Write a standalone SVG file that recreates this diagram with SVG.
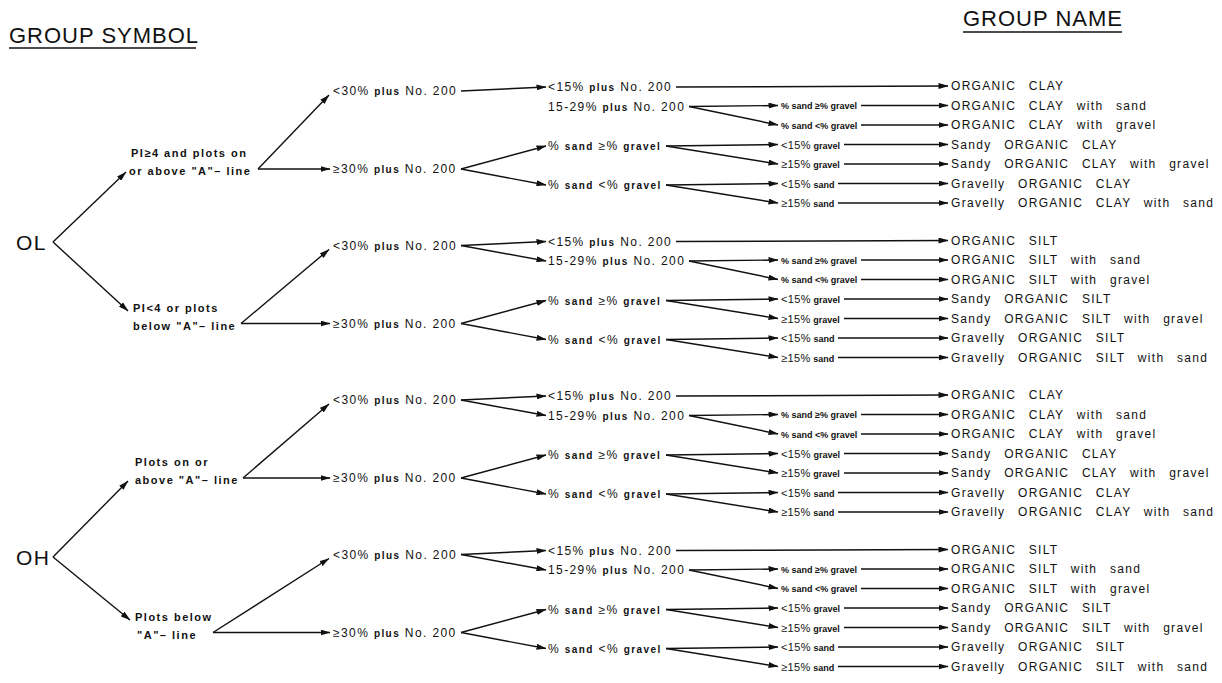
<svg xmlns="http://www.w3.org/2000/svg" width="1222" height="683" viewBox="0 0 1222 683">
<style>
text{font-family:"Liberation Sans",Arial,sans-serif;fill:#111}
.t{font-size:22px;letter-spacing:1px}
.root{font-size:21px;letter-spacing:1.5px}
.l1{font-size:11px;font-weight:bold;letter-spacing:1.5px}
.m{font-size:12px;letter-spacing:1.4px}
.w{font-size:10px;font-weight:bold}
.s{font-size:9px;font-weight:bold;letter-spacing:0px}
.d{font-size:11px;font-weight:normal;letter-spacing:0.4px}
.n{font-size:12px;letter-spacing:1.3px;word-spacing:8px}
.ul{stroke:#111;stroke-width:1.5}
#connectors line{stroke:#111;stroke-width:1.4;fill:none;marker-end:url(#ah)}
</style>
<defs>
<marker id="ah" markerWidth="10" markerHeight="6" refX="9.5" refY="3" orient="auto" markerUnits="userSpaceOnUse"><path d="M0,0 L10,3 L0,6 z" fill="#111"/></marker>
</defs>
<rect width="1222" height="683" fill="#fff"/>
<g id="title-symbol"><text class="t" x="9" y="42.5">GROUP SYMBOL</text><line class="ul" x1="9" y1="48" x2="196" y2="48"/></g>
<g id="title-name"><text class="t" x="963" y="26">GROUP NAME</text><line class="ul" x1="963" y1="32" x2="1122" y2="32"/></g>

<g id="connectors">
<line x1="53" y1="242" x2="126" y2="172"/>
<line x1="53" y1="242" x2="128" y2="311"/>
<line x1="53" y1="557" x2="128" y2="481"/>
<line x1="53" y1="557" x2="130" y2="620"/>
<!-- block 1 -->
<line x1="258" y1="169" x2="330" y2="169"/>
<line x1="258" y1="169" x2="329" y2="95"/>
<line x1="461" y1="91" x2="546" y2="87"/>
<line x1="461" y1="169" x2="546" y2="146"/>
<line x1="461" y1="169" x2="546" y2="185"/>
<line x1="676" y1="87" x2="948" y2="86"/>
<line x1="689" y1="106.5" x2="778" y2="105.5"/>
<line x1="689" y1="106.5" x2="778" y2="125"/>
<line x1="666" y1="146" x2="778" y2="144.5"/>
<line x1="666" y1="146" x2="778" y2="164"/>
<line x1="666" y1="185" x2="778" y2="183.5"/>
<line x1="666" y1="185" x2="778" y2="203"/>
<line x1="861" y1="105.5" x2="948" y2="105.5"/>
<line x1="861" y1="125" x2="948" y2="125"/>
<line x1="844" y1="144.5" x2="948" y2="144.5"/>
<line x1="844" y1="164" x2="948" y2="164"/>
<line x1="838" y1="183.5" x2="948" y2="183.5"/>
<line x1="838" y1="203" x2="948" y2="203"/>
<!-- block 2 -->
<line x1="241" y1="323.5" x2="330" y2="323.5"/>
<line x1="241" y1="323.5" x2="329" y2="249.5"/>
<line x1="461" y1="245.5" x2="546" y2="241.5"/>
<line x1="461" y1="245.5" x2="546" y2="261"/>
<line x1="461" y1="323.5" x2="546" y2="300.5"/>
<line x1="461" y1="323.5" x2="546" y2="339.5"/>
<line x1="676" y1="241.5" x2="948" y2="240.5"/>
<line x1="689" y1="261" x2="778" y2="260"/>
<line x1="689" y1="261" x2="778" y2="279.5"/>
<line x1="666" y1="300.5" x2="778" y2="299"/>
<line x1="666" y1="300.5" x2="778" y2="318.5"/>
<line x1="666" y1="339.5" x2="778" y2="338"/>
<line x1="666" y1="339.5" x2="778" y2="357.5"/>
<line x1="861" y1="260" x2="948" y2="260"/>
<line x1="861" y1="279.5" x2="948" y2="279.5"/>
<line x1="844" y1="299" x2="948" y2="299"/>
<line x1="844" y1="318.5" x2="948" y2="318.5"/>
<line x1="838" y1="338" x2="948" y2="338"/>
<line x1="838" y1="357.5" x2="948" y2="357.5"/>
<!-- block 3 -->
<line x1="243" y1="478" x2="330" y2="478"/>
<line x1="243" y1="478" x2="329" y2="404"/>
<line x1="461" y1="400" x2="546" y2="396"/>
<line x1="461" y1="400" x2="546" y2="415.5"/>
<line x1="461" y1="478" x2="546" y2="455"/>
<line x1="461" y1="478" x2="546" y2="494"/>
<line x1="676" y1="396" x2="948" y2="395"/>
<line x1="689" y1="415.5" x2="778" y2="414.5"/>
<line x1="689" y1="415.5" x2="778" y2="434"/>
<line x1="666" y1="455" x2="778" y2="453.5"/>
<line x1="666" y1="455" x2="778" y2="473"/>
<line x1="666" y1="494" x2="778" y2="492.5"/>
<line x1="666" y1="494" x2="778" y2="512"/>
<line x1="861" y1="414.5" x2="948" y2="414.5"/>
<line x1="861" y1="434" x2="948" y2="434"/>
<line x1="844" y1="453.5" x2="948" y2="453.5"/>
<line x1="844" y1="473" x2="948" y2="473"/>
<line x1="838" y1="492.5" x2="948" y2="492.5"/>
<line x1="838" y1="512" x2="948" y2="512"/>
<!-- block 4 -->
<line x1="213" y1="632.5" x2="330" y2="632.5"/>
<line x1="213" y1="632.5" x2="329" y2="558.5"/>
<line x1="461" y1="554.5" x2="546" y2="550.5"/>
<line x1="461" y1="554.5" x2="546" y2="570"/>
<line x1="461" y1="632.5" x2="546" y2="609.5"/>
<line x1="461" y1="632.5" x2="546" y2="648.5"/>
<line x1="676" y1="550.5" x2="948" y2="549.5"/>
<line x1="689" y1="570" x2="778" y2="569"/>
<line x1="689" y1="570" x2="778" y2="588.5"/>
<line x1="666" y1="609.5" x2="778" y2="608"/>
<line x1="666" y1="609.5" x2="778" y2="627.5"/>
<line x1="666" y1="648.5" x2="778" y2="647"/>
<line x1="666" y1="648.5" x2="778" y2="666.5"/>
<line x1="861" y1="569" x2="948" y2="569"/>
<line x1="861" y1="588.5" x2="948" y2="588.5"/>
<line x1="844" y1="608" x2="948" y2="608"/>
<line x1="844" y1="627.5" x2="948" y2="627.5"/>
<line x1="838" y1="647" x2="948" y2="647"/>
<line x1="838" y1="666.5" x2="948" y2="666.5"/>
</g>

<g id="OL"><text class="root" x="16" y="249.5">OL</text></g>
<g id="OH"><text class="root" x="16" y="564.5">OH</text></g>

<!-- block 1 nodes -->
<g id="b1-cond"><text class="l1" x="131" y="157">PI≥4 and plots on</text><text class="l1" x="129" y="175">or above "A"– line</text></g>
<g id="b1-lt30"><text class="m" x="333" y="95">&lt;30% <tspan class="w">plus</tspan> No. 200</text></g>
<g id="b1-ge30"><text class="m" x="333" y="173">≥30% <tspan class="w">plus</tspan> No. 200</text></g>
<g id="b1-lt15"><text class="m" x="548" y="91">&lt;15% <tspan class="w">plus</tspan> No. 200</text></g>
<g id="b1-1529"><text class="m" x="548" y="110.5">15-29% <tspan class="w">plus</tspan> No. 200</text></g>
<g id="b1-sge"><text class="m" x="548" y="150">% <tspan class="w">sand</tspan> ≥% <tspan class="w">gravel</tspan></text></g>
<g id="b1-slt"><text class="m" x="548" y="189">% <tspan class="w">sand</tspan> &lt;% <tspan class="w">gravel</tspan></text></g>
<g id="b1-a1"><text class="s" x="781" y="109">% sand ≥% gravel</text></g>
<g id="b1-a2"><text class="s" x="781" y="128.5">% sand &lt;% gravel</text></g>
<g id="b1-a3"><text class="s" x="781" y="148.5"><tspan class="d">&lt;15%</tspan> gravel</text></g>
<g id="b1-a4"><text class="s" x="781" y="168"><tspan class="d">≥15%</tspan> gravel</text></g>
<g id="b1-a5"><text class="s" x="781" y="187.5"><tspan class="d">&lt;15%</tspan> sand</text></g>
<g id="b1-a6"><text class="s" x="781" y="207"><tspan class="d">≥15%</tspan> sand</text></g>
<g id="b1-n0"><text class="n" x="951" y="90">ORGANIC CLAY</text></g>
<g id="b1-n1"><text class="n" x="951" y="109.5">ORGANIC CLAY with sand</text></g>
<g id="b1-n2"><text class="n" x="951" y="129">ORGANIC CLAY with gravel</text></g>
<g id="b1-n3"><text class="n" x="951" y="148.5">Sandy ORGANIC CLAY</text></g>
<g id="b1-n4"><text class="n" x="951" y="168">Sandy ORGANIC CLAY with gravel</text></g>
<g id="b1-n5"><text class="n" x="951" y="187.5">Gravelly ORGANIC CLAY</text></g>
<g id="b1-n6"><text class="n" x="951" y="207">Gravelly ORGANIC CLAY with sand</text></g>

<!-- block 2 nodes -->
<g id="b2-cond"><text class="l1" x="133" y="311.5">PI&lt;4 or plots</text><text class="l1" x="133" y="329.5">below "A"– line</text></g>
<g id="b2-lt30"><text class="m" x="333" y="249.5">&lt;30% <tspan class="w">plus</tspan> No. 200</text></g>
<g id="b2-ge30"><text class="m" x="333" y="327.5">≥30% <tspan class="w">plus</tspan> No. 200</text></g>
<g id="b2-lt15"><text class="m" x="548" y="245.5">&lt;15% <tspan class="w">plus</tspan> No. 200</text></g>
<g id="b2-1529"><text class="m" x="548" y="265">15-29% <tspan class="w">plus</tspan> No. 200</text></g>
<g id="b2-sge"><text class="m" x="548" y="304.5">% <tspan class="w">sand</tspan> ≥% <tspan class="w">gravel</tspan></text></g>
<g id="b2-slt"><text class="m" x="548" y="343.5">% <tspan class="w">sand</tspan> &lt;% <tspan class="w">gravel</tspan></text></g>
<g id="b2-a1"><text class="s" x="781" y="263.5">% sand ≥% gravel</text></g>
<g id="b2-a2"><text class="s" x="781" y="283">% sand &lt;% gravel</text></g>
<g id="b2-a3"><text class="s" x="781" y="303"><tspan class="d">&lt;15%</tspan> gravel</text></g>
<g id="b2-a4"><text class="s" x="781" y="322.5"><tspan class="d">≥15%</tspan> gravel</text></g>
<g id="b2-a5"><text class="s" x="781" y="342"><tspan class="d">&lt;15%</tspan> sand</text></g>
<g id="b2-a6"><text class="s" x="781" y="361.5"><tspan class="d">≥15%</tspan> sand</text></g>
<g id="b2-n0"><text class="n" x="951" y="244.5">ORGANIC SILT</text></g>
<g id="b2-n1"><text class="n" x="951" y="264">ORGANIC SILT with sand</text></g>
<g id="b2-n2"><text class="n" x="951" y="283.5">ORGANIC SILT with gravel</text></g>
<g id="b2-n3"><text class="n" x="951" y="303">Sandy ORGANIC SILT</text></g>
<g id="b2-n4"><text class="n" x="951" y="322.5">Sandy ORGANIC SILT with gravel</text></g>
<g id="b2-n5"><text class="n" x="951" y="342">Gravelly ORGANIC SILT</text></g>
<g id="b2-n6"><text class="n" x="951" y="361.5">Gravelly ORGANIC SILT with sand</text></g>

<!-- block 3 nodes -->
<g id="b3-cond"><text class="l1" x="135" y="466">Plots on or</text><text class="l1" x="135" y="484">above "A"– line</text></g>
<g id="b3-lt30"><text class="m" x="333" y="404">&lt;30% <tspan class="w">plus</tspan> No. 200</text></g>
<g id="b3-ge30"><text class="m" x="333" y="482">≥30% <tspan class="w">plus</tspan> No. 200</text></g>
<g id="b3-lt15"><text class="m" x="548" y="400">&lt;15% <tspan class="w">plus</tspan> No. 200</text></g>
<g id="b3-1529"><text class="m" x="548" y="419.5">15-29% <tspan class="w">plus</tspan> No. 200</text></g>
<g id="b3-sge"><text class="m" x="548" y="459">% <tspan class="w">sand</tspan> ≥% <tspan class="w">gravel</tspan></text></g>
<g id="b3-slt"><text class="m" x="548" y="498">% <tspan class="w">sand</tspan> &lt;% <tspan class="w">gravel</tspan></text></g>
<g id="b3-a1"><text class="s" x="781" y="418">% sand ≥% gravel</text></g>
<g id="b3-a2"><text class="s" x="781" y="437.5">% sand &lt;% gravel</text></g>
<g id="b3-a3"><text class="s" x="781" y="457.5"><tspan class="d">&lt;15%</tspan> gravel</text></g>
<g id="b3-a4"><text class="s" x="781" y="477"><tspan class="d">≥15%</tspan> gravel</text></g>
<g id="b3-a5"><text class="s" x="781" y="496.5"><tspan class="d">&lt;15%</tspan> sand</text></g>
<g id="b3-a6"><text class="s" x="781" y="516"><tspan class="d">≥15%</tspan> sand</text></g>
<g id="b3-n0"><text class="n" x="951" y="399">ORGANIC CLAY</text></g>
<g id="b3-n1"><text class="n" x="951" y="418.5">ORGANIC CLAY with sand</text></g>
<g id="b3-n2"><text class="n" x="951" y="438">ORGANIC CLAY with gravel</text></g>
<g id="b3-n3"><text class="n" x="951" y="457.5">Sandy ORGANIC CLAY</text></g>
<g id="b3-n4"><text class="n" x="951" y="477">Sandy ORGANIC CLAY with gravel</text></g>
<g id="b3-n5"><text class="n" x="951" y="496.5">Gravelly ORGANIC CLAY</text></g>
<g id="b3-n6"><text class="n" x="951" y="516">Gravelly ORGANIC CLAY with sand</text></g>

<!-- block 4 nodes -->
<g id="b4-cond"><text class="l1" x="135" y="620.5">Plots below</text><text class="l1" x="137" y="638.5">"A"– line</text></g>
<g id="b4-lt30"><text class="m" x="333" y="558.5">&lt;30% <tspan class="w">plus</tspan> No. 200</text></g>
<g id="b4-ge30"><text class="m" x="333" y="636.5">≥30% <tspan class="w">plus</tspan> No. 200</text></g>
<g id="b4-lt15"><text class="m" x="548" y="554.5">&lt;15% <tspan class="w">plus</tspan> No. 200</text></g>
<g id="b4-1529"><text class="m" x="548" y="574">15-29% <tspan class="w">plus</tspan> No. 200</text></g>
<g id="b4-sge"><text class="m" x="548" y="613.5">% <tspan class="w">sand</tspan> ≥% <tspan class="w">gravel</tspan></text></g>
<g id="b4-slt"><text class="m" x="548" y="652.5">% <tspan class="w">sand</tspan> &lt;% <tspan class="w">gravel</tspan></text></g>
<g id="b4-a1"><text class="s" x="781" y="572.5">% sand ≥% gravel</text></g>
<g id="b4-a2"><text class="s" x="781" y="592">% sand &lt;% gravel</text></g>
<g id="b4-a3"><text class="s" x="781" y="612"><tspan class="d">&lt;15%</tspan> gravel</text></g>
<g id="b4-a4"><text class="s" x="781" y="631.5"><tspan class="d">≥15%</tspan> gravel</text></g>
<g id="b4-a5"><text class="s" x="781" y="651"><tspan class="d">&lt;15%</tspan> sand</text></g>
<g id="b4-a6"><text class="s" x="781" y="670.5"><tspan class="d">≥15%</tspan> sand</text></g>
<g id="b4-n0"><text class="n" x="951" y="553.5">ORGANIC SILT</text></g>
<g id="b4-n1"><text class="n" x="951" y="573">ORGANIC SILT with sand</text></g>
<g id="b4-n2"><text class="n" x="951" y="592.5">ORGANIC SILT with gravel</text></g>
<g id="b4-n3"><text class="n" x="951" y="612">Sandy ORGANIC SILT</text></g>
<g id="b4-n4"><text class="n" x="951" y="631.5">Sandy ORGANIC SILT with gravel</text></g>
<g id="b4-n5"><text class="n" x="951" y="651">Gravelly ORGANIC SILT</text></g>
<g id="b4-n6"><text class="n" x="951" y="670.5">Gravelly ORGANIC SILT with sand</text></g>
</svg>
